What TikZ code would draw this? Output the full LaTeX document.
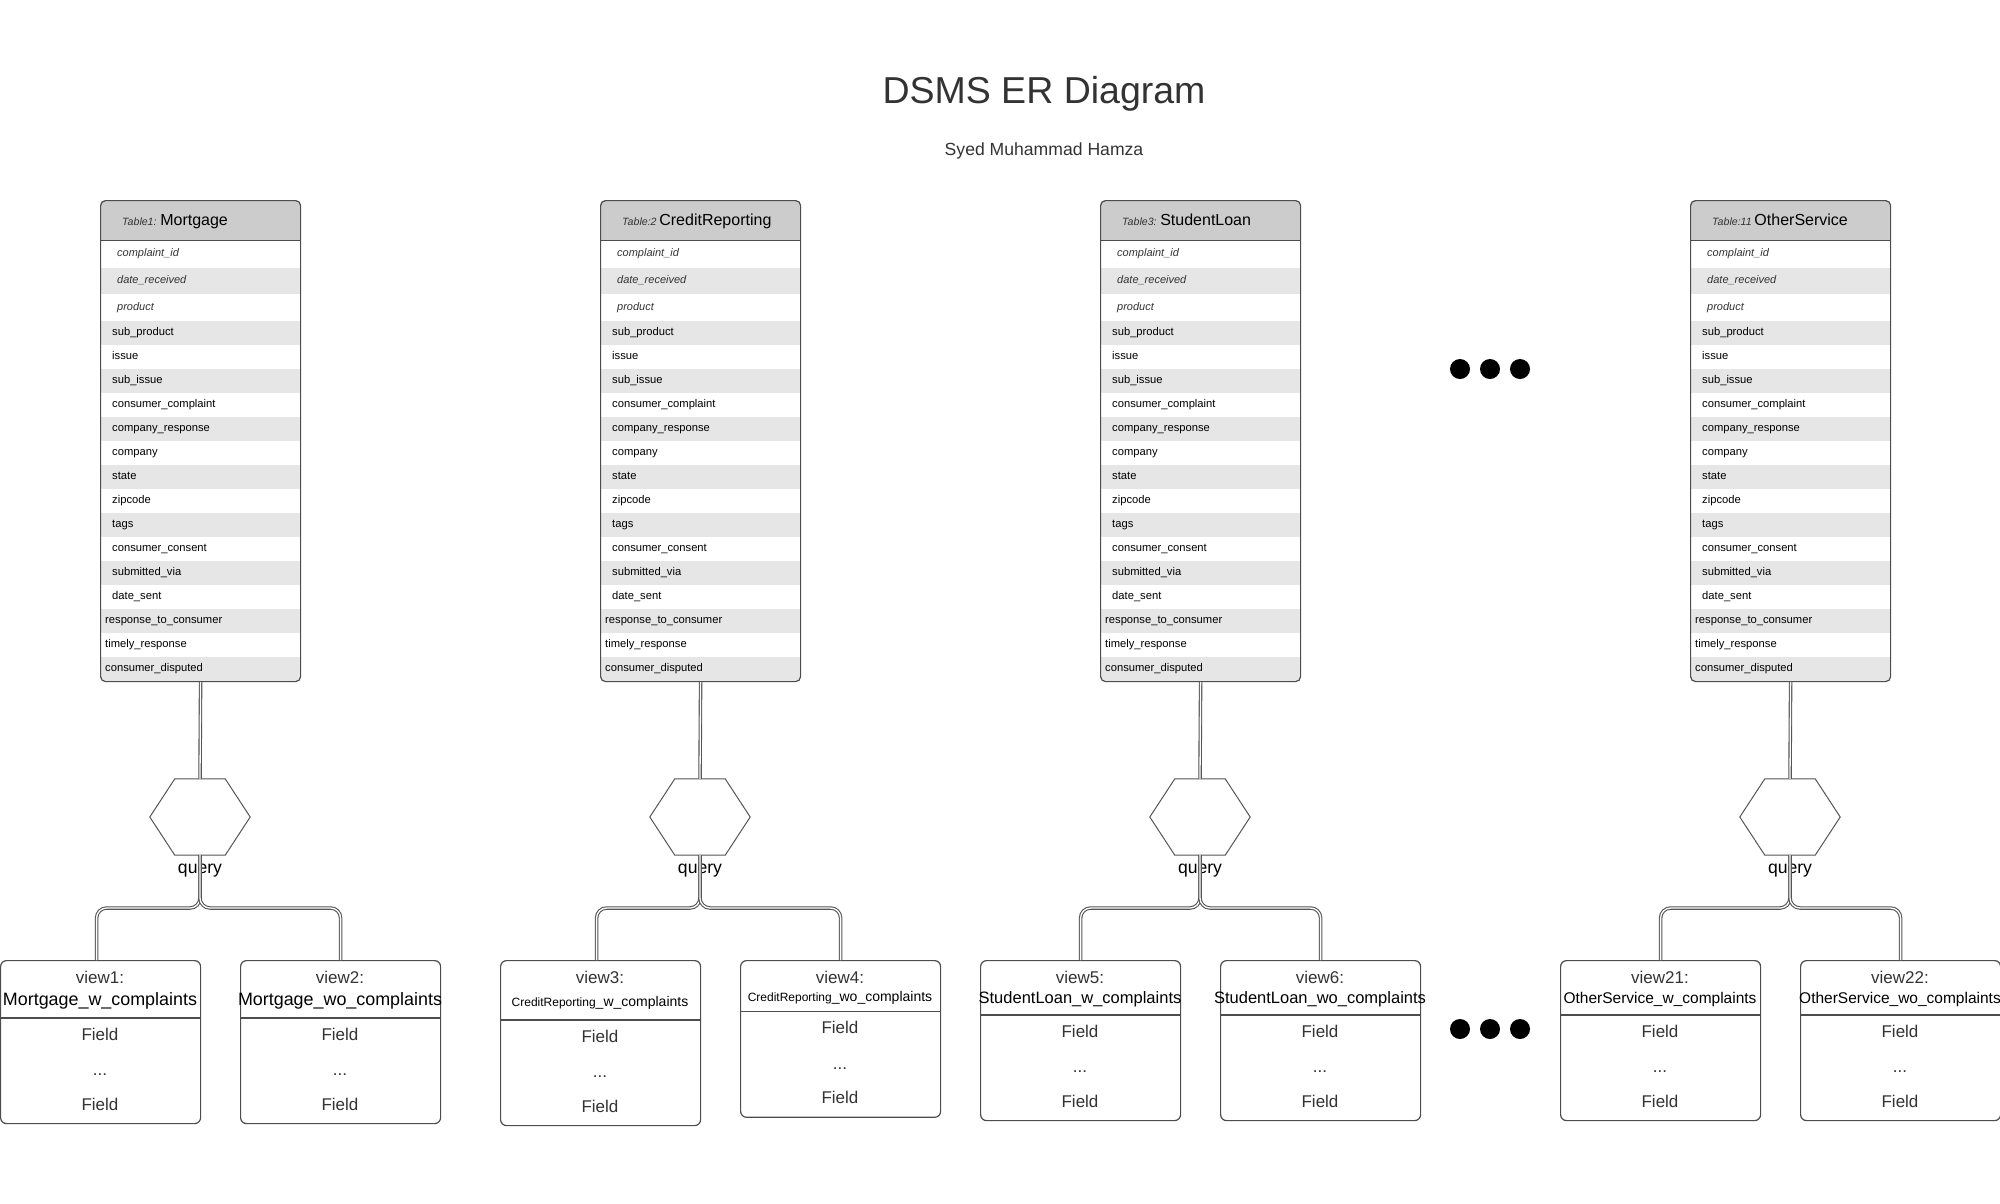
\documentclass[tikz,border=0pt]{standalone}
\usepackage{fontspec}
\setmainfont{Liberation Sans}
\usetikzlibrary{calc}
\definecolor{hdr}{HTML}{CCCCCC}
\definecolor{rowg}{HTML}{E6E6E6}
\definecolor{bord}{HTML}{4D4D4D}
\definecolor{txt}{HTML}{333333}
\definecolor{lineg}{HTML}{555555}

\newcommand\fs[1]{\fontsize{#1}{#1}\selectfont}

\tikzset{
 tbox/.style={draw=bord, line width=1.2pt, rounded corners=5pt, minimum width=200pt, minimum height=481pt, inner sep=0pt, anchor=north west},
 vbox/.style={draw=bord, line width=1.2pt, rounded corners=6pt, minimum width=200pt, inner sep=0pt, anchor=north west},
 fld/.style={anchor=base west, inner sep=0pt, font=\fs{11.2}},
 ifld/.style={anchor=base west, inner sep=0pt, font=\fs{11}\itshape, text=txt},
 vtxt/.style={anchor=base, inner sep=0pt, text=txt, font=\fs{17}},
 vname/.style={anchor=base, inner sep=0pt},
 dbl/.style={draw=lineg, line width=1.1pt, double=white, double distance=1.3pt},
 hexl/.style={draw=lineg, line width=1pt},
 hexn/.style={minimum width=100pt, minimum height=76pt, inner sep=0pt},
 dotn/.style={circle, fill=black, minimum size=20pt, inner sep=0pt},
}

\newcommand\ertable[4]{%
 \begin{scope}
 \clip[rounded corners=5pt] (#2,200) rectangle ++(200,481);
 \fill[hdr] (#2,200) rectangle ++(200,40.7);
 \fill[rowg] (#2,267.5) rectangle ++(200,26.8);
 \foreach \k in {0,2,...,14} {\fill[rowg] (#2,321+24*\k) rectangle ++(200,24);}
 \end{scope}
 \draw[bord, line width=1pt] (#2,240.7) -- ++(200,0);
 \node[tbox] (#1) at (#2,200) {};
 \node[anchor=base west, inner sep=0pt] (#1h) at (#2+22,225) {{\fs{10.6}\itshape\color{txt}#3} {\fs{16}#4}};
 \node[ifld] (#1i1) at (#2+17,256.7) {complaint\_id};
 \node[ifld] (#1i2) at (#2+17,283.5) {date\_received};
 \node[ifld] (#1i3) at (#2+17,310.5) {product};
 \foreach \t [count=\k from 0] in {sub\_product, issue, sub\_issue, consumer\_complaint, company\_response, company, state, zipcode, tags, consumer\_consent, submitted\_via, date\_sent} {
   \node[fld] (#1r\k) at (#2+12, 335.5+24*\k) {\t};
 }
 \node[fld] (#1r12) at (#2+5, 623.5) {response\_to\_consumer};
 \node[fld] (#1r13) at (#2+5, 647.5) {timely\_response};
 \node[fld] (#1r14) at (#2+5, 671.5) {consumer\_disputed};
}

\newcommand\hexq[2]{%
 \node[hexn] (#1) at (#2,817) {};
 \draw[hexl] (#1.west) -- ([xshift=25pt]#1.north west) -- ([xshift=-25pt]#1.north east) -- (#1.east) -- ([xshift=-25pt]#1.south east) -- ([xshift=25pt]#1.south west) -- cycle;
 \node[anchor=base, inner sep=0pt, font=\fs{17.6}] (#1q) at (#2,873) {query};
}

\newcommand\viewbox[6]{%
 \node[vbox, minimum height=#3+105-960] (#1) at (#2,960) {};
 \draw[bord, line width=1.1pt] (#2,#3) -- ++(200,0);
 \node[vtxt] (#1a) at (#2+100,983) {#5};
 \node[vname] (#1b) at (#2+100,#4) {#6};
 \node[vtxt] (#1c) at (#2+100,#3+22) {Field};
 \node[vtxt] (#1d) at (#2+100,#3+57.5) {...};
 \node[vtxt] (#1e) at (#2+100,#3+92) {Field};
}

\begin{document}
\begin{tikzpicture}[x=1pt,y=-1pt]
\useasboundingbox (0,0) rectangle (2000,1203);
\node[anchor=base, text=txt, font=\fs{37.5}, inner sep=0pt] (title) at (1044,103) {DSMS ER Diagram};
\node[anchor=base, text=txt, font=\fs{17.6}, inner sep=0pt] (author) at (1044,155) {Syed Muhammad Hamza};

\ertable{t1}{100}{Table1:}{Mortgage}
\ertable{t2}{600}{Table:2}{CreditReporting}
\ertable{t3}{1100}{Table3:}{StudentLoan}
\ertable{t4}{1690}{Table:11}{OtherService}

\hexq{h1}{200}
\hexq{h2}{700}
\hexq{h3}{1200}
\hexq{h4}{1790}

\viewbox{v1}{0}{1018}{1005}{view1:}{\fs{17.9}Mortgage\_w\_complaints}
\viewbox{v2}{240}{1018}{1005}{view2:}{\fs{17.9}Mortgage\_wo\_complaints}
\viewbox{v3}{500}{1020}{1006.7}{view3:}{\fs{12}CreditReporting\fs{14}\_w\_complaints}
\viewbox{v4}{740}{1011.7}{1001}{view4:}{\fs{12}CreditReporting\fs{14}\_wo\_complaints}
\viewbox{v5}{980}{1015}{1003.3}{view5:}{\fs{16.5}StudentLoan\_w\_complaints}
\viewbox{v6}{1220}{1015}{1003.3}{view6:}{\fs{16.5}StudentLoan\_wo\_complaints}
\viewbox{v21}{1560}{1015}{1003}{view21:}{\fs{15.5}OtherService\_w\_complaints}
\viewbox{v22}{1800}{1015}{1003}{view22:}{\fs{15.5}OtherService\_wo\_complaints}

\coordinate (s1) at (200,908);
\coordinate (s2) at (700,908);
\coordinate (s3) at (1200,908);
\coordinate (s4) at (1790,908);

\draw[dbl] (t1.south) -- (h1.north);
\draw[dbl] (t2.south) -- (h2.north);
\draw[dbl] (t3.south) -- (h3.north);
\draw[dbl] (t4.south) -- (h4.north);

\draw[dbl, rounded corners=10pt] (h1.south) -- (s1) -| ([xshift=-4pt]v1.north);
\draw[dbl, rounded corners=10pt] (h1.south) -- (s1) -| (v2.north);
\draw[dbl, rounded corners=10pt] (h2.south) -- (s2) -| ([xshift=-4pt]v3.north);
\draw[dbl, rounded corners=10pt] (h2.south) -- (s2) -| (v4.north);
\draw[dbl, rounded corners=10pt] (h3.south) -- (s3) -| (v5.north);
\draw[dbl, rounded corners=10pt] (h3.south) -- (s3) -| (v6.north);
\draw[dbl, rounded corners=10pt] (h4.south) -- (s4) -| (v21.north);
\draw[dbl, rounded corners=10pt] (h4.south) -- (s4) -| (v22.north);

\node[dotn] (d1) at (1460,369) {};
\node[dotn] (d2) at (1490,369) {};
\node[dotn] (d3) at (1520,369) {};
\node[dotn] (d4) at (1460,1029) {};
\node[dotn] (d5) at (1490,1029) {};
\node[dotn] (d6) at (1520,1029) {};
\end{tikzpicture}
\end{document}
